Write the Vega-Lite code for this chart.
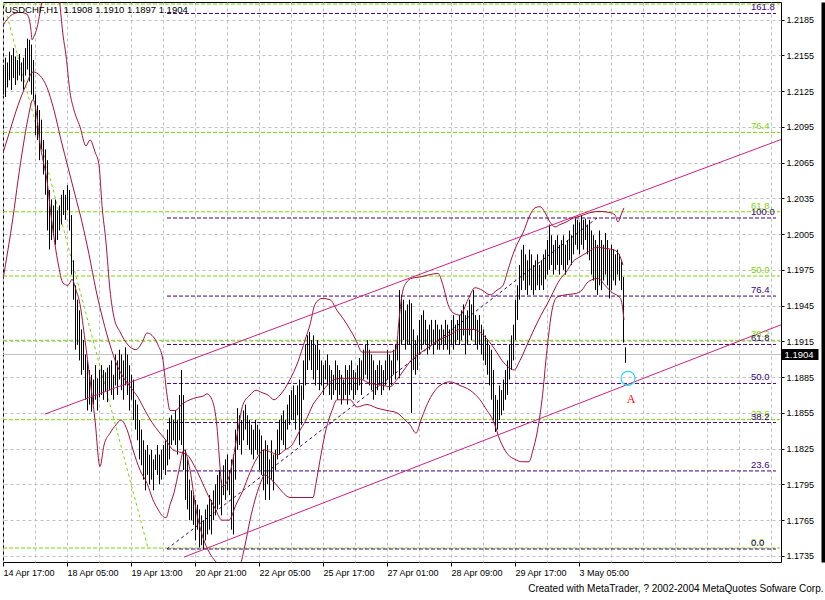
{
"$schema":"https://vega.github.io/schema/vega-lite/v6.json",
"width":778,"height":560,
"autosize":{"type":"none"},
"padding":{"left":3,"top":2,"right":44,"bottom":38},
"background":"white",
"config":{"view":{"stroke":"black","strokeWidth":1,"fill":"white"},"font":"Liberation Sans","text":{"font":"Liberation Sans"},
"axis":{"labelFont":"Liberation Sans","labelFontSize":9,"labelColor":"black","tickColor":"black","gridColor":"#c0c0c0","gridDash":[3,3],"gridWidth":1,"gridOpacity":1}},
"title":{"text":"Created with MetaTrader, ? 2002-2004 MetaQuotes Sofware Corp.","orient":"bottom","anchor":"end","frame":"bounds","fontSize":10,"fontWeight":"normal","font":"Liberation Sans","color":"black","offset":7,"dx":0},
"resolve":{"scale":{"x":"shared","y":"shared"},"axis":{"x":"independent","y":"independent"}},
"datasets":{
"bars":[{"t":3,"h":1.2147,"l":1.2122},{"t":5,"h":1.2153,"l":1.212},{"t":7,"h":1.2149,"l":1.2128},{"t":9,"h":1.2158,"l":1.2134},{"t":11,"h":1.2155,"l":1.2126},{"t":13,"h":1.2161,"l":1.2136},{"t":15,"h":1.2154,"l":1.213},{"t":17,"h":1.2151,"l":1.2134},{"t":19,"h":1.2156,"l":1.2138},{"t":21,"h":1.2149,"l":1.2133},{"t":23,"h":1.2153,"l":1.2126},{"t":25,"h":1.2161,"l":1.2138},{"t":27,"h":1.2169,"l":1.2143},{"t":29,"h":1.2168,"l":1.2133},{"t":31,"h":1.2164,"l":1.2122},{"t":33,"h":1.2151,"l":1.2118},{"t":35,"h":1.2122,"l":1.2088},{"t":37,"h":1.2113,"l":1.2084},{"t":39,"h":1.2109,"l":1.2067},{"t":41,"h":1.2101,"l":1.2076},{"t":43,"h":1.2084,"l":1.2055},{"t":45,"h":1.2076,"l":1.2038},{"t":47,"h":1.2067,"l":1.2008},{"t":49,"h":1.2042,"l":1.1992},{"t":51,"h":1.2034,"l":1.2},{"t":53,"h":1.2029,"l":1.2004},{"t":55,"h":1.2034,"l":1.1996},{"t":57,"h":1.2025,"l":1.2},{"t":59,"h":1.2029,"l":1.2008},{"t":61,"h":1.2038,"l":1.2013},{"t":63,"h":1.2042,"l":1.2021},{"t":65,"h":1.2038,"l":1.2017},{"t":67,"h":1.2046,"l":1.2025},{"t":69,"h":1.2042,"l":1.2008},{"t":71,"h":1.2021,"l":1.1971},{"t":73,"h":1.1983,"l":1.195},{"t":75,"h":1.1962,"l":1.1908},{"t":77,"h":1.195,"l":1.1912},{"t":79,"h":1.1941,"l":1.1899},{"t":81,"h":1.1925,"l":1.1887},{"t":83,"h":1.1916,"l":1.1891},{"t":85,"h":1.1904,"l":1.1866},{"t":87,"h":1.1899,"l":1.1857},{"t":89,"h":1.1891,"l":1.1862},{"t":91,"h":1.1887,"l":1.1856},{"t":93,"h":1.1883,"l":1.1862},{"t":95,"h":1.1895,"l":1.1866},{"t":97,"h":1.1884,"l":1.1857},{"t":99,"h":1.1891,"l":1.1868},{"t":101,"h":1.1895,"l":1.187},{"t":103,"h":1.1891,"l":1.1866},{"t":105,"h":1.1889,"l":1.1873},{"t":107,"h":1.1893,"l":1.1864},{"t":109,"h":1.1895,"l":1.1874},{"t":111,"h":1.1899,"l":1.187},{"t":113,"h":1.1887,"l":1.1866},{"t":115,"h":1.1904,"l":1.1878},{"t":117,"h":1.1899,"l":1.187},{"t":119,"h":1.1908,"l":1.1883},{"t":121,"h":1.1904,"l":1.1874},{"t":123,"h":1.1899,"l":1.1866},{"t":125,"h":1.191,"l":1.1878},{"t":127,"h":1.1904,"l":1.187},{"t":129,"h":1.1895,"l":1.1857},{"t":131,"h":1.1887,"l":1.1866},{"t":133,"h":1.1883,"l":1.1849},{"t":135,"h":1.1866,"l":1.1841},{"t":137,"h":1.1862,"l":1.1832},{"t":139,"h":1.1849,"l":1.1816},{"t":141,"h":1.1841,"l":1.1811},{"t":143,"h":1.1832,"l":1.1799},{"t":145,"h":1.1824,"l":1.179},{"t":147,"h":1.1828,"l":1.1803},{"t":149,"h":1.182,"l":1.1795},{"t":151,"h":1.1824,"l":1.1799},{"t":153,"h":1.1816,"l":1.179},{"t":155,"h":1.182,"l":1.1807},{"t":157,"h":1.1828,"l":1.1803},{"t":159,"h":1.182,"l":1.1795},{"t":161,"h":1.1824,"l":1.1799},{"t":163,"h":1.1828,"l":1.1807},{"t":165,"h":1.1832,"l":1.1803},{"t":167,"h":1.1841,"l":1.1811},{"t":169,"h":1.1851,"l":1.1816},{"t":171,"h":1.1853,"l":1.1828},{"t":173,"h":1.1849,"l":1.1832},{"t":175,"h":1.1857,"l":1.1828},{"t":177,"h":1.1849,"l":1.182},{"t":179,"h":1.187,"l":1.1832},{"t":181,"h":1.1891,"l":1.1828},{"t":183,"h":1.187,"l":1.1807},{"t":185,"h":1.1824,"l":1.1782},{"t":187,"h":1.1816,"l":1.1774},{"t":189,"h":1.1799,"l":1.1765},{"t":191,"h":1.179,"l":1.1765},{"t":193,"h":1.1786,"l":1.1761},{"t":195,"h":1.1782,"l":1.1748},{"t":197,"h":1.1778,"l":1.1757},{"t":199,"h":1.1774,"l":1.1742},{"t":201,"h":1.1769,"l":1.1744},{"t":203,"h":1.1765,"l":1.174},{"t":205,"h":1.1774,"l":1.1748},{"t":207,"h":1.1778,"l":1.1753},{"t":209,"h":1.1786,"l":1.1757},{"t":211,"h":1.1782,"l":1.1753},{"t":213,"h":1.179,"l":1.1765},{"t":215,"h":1.1795,"l":1.1769},{"t":217,"h":1.1803,"l":1.1774},{"t":219,"h":1.1807,"l":1.1778},{"t":221,"h":1.1799,"l":1.1769},{"t":223,"h":1.1811,"l":1.1786},{"t":225,"h":1.1816,"l":1.1782},{"t":227,"h":1.182,"l":1.179},{"t":229,"h":1.1807,"l":1.1786},{"t":231,"h":1.1816,"l":1.1757},{"t":233,"h":1.182,"l":1.1753},{"t":235,"h":1.1841,"l":1.1799},{"t":237,"h":1.1859,"l":1.1824},{"t":239,"h":1.1853,"l":1.1828},{"t":241,"h":1.1849,"l":1.182},{"t":243,"h":1.1857,"l":1.1832},{"t":245,"h":1.1862,"l":1.1841},{"t":247,"h":1.1853,"l":1.1828},{"t":249,"h":1.1849,"l":1.1824},{"t":251,"h":1.1845,"l":1.182},{"t":253,"h":1.1841,"l":1.1816},{"t":255,"h":1.1849,"l":1.1824},{"t":257,"h":1.1845,"l":1.182},{"t":259,"h":1.1841,"l":1.1807},{"t":261,"h":1.1836,"l":1.1803},{"t":263,"h":1.1824,"l":1.179},{"t":265,"h":1.1832,"l":1.1782},{"t":267,"h":1.1828,"l":1.1795},{"t":269,"h":1.1816,"l":1.1782},{"t":271,"h":1.1832,"l":1.1799},{"t":273,"h":1.182,"l":1.179},{"t":275,"h":1.1824,"l":1.1807},{"t":277,"h":1.1841,"l":1.1816},{"t":279,"h":1.1849,"l":1.182},{"t":281,"h":1.1853,"l":1.1832},{"t":283,"h":1.1857,"l":1.1828},{"t":285,"h":1.1849,"l":1.1824},{"t":287,"h":1.1862,"l":1.1841},{"t":289,"h":1.187,"l":1.1845},{"t":291,"h":1.1874,"l":1.1849},{"t":293,"h":1.1878,"l":1.1849},{"t":295,"h":1.187,"l":1.1841},{"t":297,"h":1.1878,"l":1.1853},{"t":299,"h":1.1883,"l":1.1828},{"t":301,"h":1.1878,"l":1.1845},{"t":303,"h":1.1899,"l":1.1866},{"t":305,"h":1.1912,"l":1.1878},{"t":307,"h":1.192,"l":1.1891},{"t":309,"h":1.1923,"l":1.1899},{"t":311,"h":1.1916,"l":1.1891},{"t":313,"h":1.192,"l":1.1883},{"t":315,"h":1.1912,"l":1.1878},{"t":317,"h":1.1916,"l":1.1891},{"t":319,"h":1.1908,"l":1.1874},{"t":321,"h":1.1899,"l":1.1878},{"t":323,"h":1.1895,"l":1.187},{"t":325,"h":1.1899,"l":1.1883},{"t":327,"h":1.1904,"l":1.1878},{"t":329,"h":1.1895,"l":1.187},{"t":331,"h":1.1891,"l":1.1866},{"t":333,"h":1.1887,"l":1.187},{"t":335,"h":1.1899,"l":1.1874},{"t":337,"h":1.1895,"l":1.1866},{"t":339,"h":1.1891,"l":1.187},{"t":341,"h":1.1887,"l":1.1862},{"t":343,"h":1.1883,"l":1.1866},{"t":345,"h":1.1895,"l":1.187},{"t":347,"h":1.1891,"l":1.1862},{"t":349,"h":1.1895,"l":1.187},{"t":351,"h":1.1899,"l":1.1874},{"t":353,"h":1.1891,"l":1.1866},{"t":355,"h":1.1889,"l":1.187},{"t":357,"h":1.1895,"l":1.1874},{"t":359,"h":1.1901,"l":1.1878},{"t":361,"h":1.1899,"l":1.187},{"t":363,"h":1.1908,"l":1.1883},{"t":365,"h":1.1912,"l":1.1887},{"t":367,"h":1.1916,"l":1.1883},{"t":369,"h":1.1908,"l":1.1878},{"t":371,"h":1.1904,"l":1.1874},{"t":373,"h":1.1899,"l":1.1866},{"t":375,"h":1.1891,"l":1.187},{"t":377,"h":1.1895,"l":1.1874},{"t":379,"h":1.1899,"l":1.1878},{"t":381,"h":1.1895,"l":1.187},{"t":383,"h":1.1891,"l":1.1874},{"t":385,"h":1.1899,"l":1.1878},{"t":387,"h":1.1908,"l":1.1883},{"t":389,"h":1.1904,"l":1.1874},{"t":391,"h":1.1899,"l":1.1878},{"t":393,"h":1.1908,"l":1.1887},{"t":395,"h":1.1912,"l":1.1883},{"t":397,"h":1.1916,"l":1.1899},{"t":399,"h":1.1958,"l":1.1884},{"t":401,"h":1.1954,"l":1.1912},{"t":403,"h":1.195,"l":1.1916},{"t":405,"h":1.1941,"l":1.1908},{"t":407,"h":1.1946,"l":1.1912},{"t":409,"h":1.195,"l":1.1912},{"t":411,"h":1.1947,"l":1.1855},{"t":413,"h":1.1925,"l":1.1891},{"t":415,"h":1.1916,"l":1.1887},{"t":417,"h":1.192,"l":1.1891},{"t":419,"h":1.1933,"l":1.1904},{"t":421,"h":1.1937,"l":1.1908},{"t":423,"h":1.1941,"l":1.1912},{"t":425,"h":1.1933,"l":1.1912},{"t":427,"h":1.1925,"l":1.1904},{"t":429,"h":1.1929,"l":1.1908},{"t":431,"h":1.1933,"l":1.1912},{"t":433,"h":1.1925,"l":1.1904},{"t":435,"h":1.1933,"l":1.1912},{"t":437,"h":1.1929,"l":1.1908},{"t":439,"h":1.1925,"l":1.1908},{"t":441,"h":1.1929,"l":1.1912},{"t":443,"h":1.1925,"l":1.1908},{"t":445,"h":1.1933,"l":1.1912},{"t":447,"h":1.1929,"l":1.1908},{"t":449,"h":1.1925,"l":1.1904},{"t":451,"h":1.1933,"l":1.1912},{"t":453,"h":1.1937,"l":1.1908},{"t":455,"h":1.1929,"l":1.1912},{"t":457,"h":1.1933,"l":1.1916},{"t":459,"h":1.1937,"l":1.1912},{"t":461,"h":1.1941,"l":1.1916},{"t":463,"h":1.1946,"l":1.192},{"t":465,"h":1.1937,"l":1.1904},{"t":467,"h":1.1941,"l":1.1912},{"t":469,"h":1.195,"l":1.192},{"t":471,"h":1.1946,"l":1.1916},{"t":473,"h":1.1958,"l":1.1925},{"t":475,"h":1.1937,"l":1.1912},{"t":477,"h":1.1933,"l":1.1908},{"t":479,"h":1.1937,"l":1.1912},{"t":481,"h":1.1929,"l":1.1904},{"t":483,"h":1.1925,"l":1.1899},{"t":485,"h":1.192,"l":1.1895},{"t":487,"h":1.1916,"l":1.1887},{"t":489,"h":1.1912,"l":1.1878},{"t":491,"h":1.1908,"l":1.1866},{"t":493,"h":1.1891,"l":1.1849},{"t":495,"h":1.187,"l":1.1839},{"t":497,"h":1.1866,"l":1.1841},{"t":499,"h":1.1878,"l":1.1849},{"t":501,"h":1.1874,"l":1.1853},{"t":503,"h":1.1883,"l":1.1857},{"t":505,"h":1.1891,"l":1.1866},{"t":507,"h":1.1899,"l":1.187},{"t":509,"h":1.1912,"l":1.1883},{"t":511,"h":1.192,"l":1.1891},{"t":513,"h":1.1929,"l":1.1899},{"t":515,"h":1.195,"l":1.1916},{"t":517,"h":1.1962,"l":1.1933},{"t":519,"h":1.1979,"l":1.195},{"t":521,"h":1.1992,"l":1.1958},{"t":523,"h":1.1996,"l":1.1966},{"t":525,"h":1.1988,"l":1.1958},{"t":527,"h":1.1983,"l":1.1954},{"t":529,"h":1.1992,"l":1.1962},{"t":531,"h":1.1988,"l":1.1958},{"t":533,"h":1.1979,"l":1.1954},{"t":535,"h":1.1983,"l":1.1958},{"t":537,"h":1.1988,"l":1.1962},{"t":539,"h":1.1979,"l":1.1958},{"t":541,"h":1.1983,"l":1.1962},{"t":543,"h":1.1988,"l":1.1958},{"t":545,"h":1.1992,"l":1.1967},{"t":547,"h":1.2,"l":1.1971},{"t":549,"h":1.2013,"l":1.1975},{"t":551,"h":1.2004,"l":1.1979},{"t":553,"h":1.1996,"l":1.1971},{"t":555,"h":1.2,"l":1.1975},{"t":557,"h":1.2004,"l":1.1979},{"t":559,"h":1.1996,"l":1.1971},{"t":561,"h":1.2,"l":1.1979},{"t":563,"h":1.2004,"l":1.1975},{"t":565,"h":1.1996,"l":1.1971},{"t":567,"h":1.2,"l":1.1979},{"t":569,"h":1.2008,"l":1.1983},{"t":571,"h":1.2004,"l":1.1979},{"t":573,"h":1.2013,"l":1.1988},{"t":575,"h":1.2018,"l":1.1996},{"t":577,"h":1.2017,"l":1.1992},{"t":579,"h":1.2015,"l":1.1988},{"t":581,"h":1.2021,"l":1.1996},{"t":583,"h":1.2017,"l":1.1992},{"t":585,"h":1.2018,"l":1.2},{"t":587,"h":1.2013,"l":1.1988},{"t":589,"h":1.2017,"l":1.1983},{"t":591,"h":1.2008,"l":1.1971},{"t":593,"h":1.2004,"l":1.1966},{"t":595,"h":1.2,"l":1.1958},{"t":597,"h":1.1996,"l":1.1954},{"t":599,"h":1.2008,"l":1.1962},{"t":601,"h":1.2,"l":1.1958},{"t":603,"h":1.1996,"l":1.1966},{"t":605,"h":1.2006,"l":1.1971},{"t":607,"h":1.2,"l":1.1962},{"t":609,"h":1.1992,"l":1.1951},{"t":611,"h":1.1996,"l":1.1958},{"t":613,"h":1.1992,"l":1.1966},{"t":615,"h":1.1988,"l":1.1962},{"t":617,"h":1.1992,"l":1.1971},{"t":619,"h":1.1988,"l":1.1966},{"t":621,"h":1.1982,"l":1.1958},{"t":623,"h":1.1969,"l":1.1914},{"t":625,"h":1.191,"l":1.1897}],
"bands":[{"b":"U","t":3,"p":1.218},{"b":"U","t":8,"p":1.2186},{"b":"U","t":14,"p":1.219},{"b":"U","t":20,"p":1.2191},{"b":"U","t":26,"p":1.219},{"b":"U","t":29,"p":1.2186},{"b":"U","t":31,"p":1.2176},{"b":"U","t":32,"p":1.2168},{"b":"U","t":34,"p":1.2171},{"b":"U","t":37,"p":1.2178},{"b":"U","t":40,"p":1.2191},{"b":"U","t":43,"p":1.2206},{"b":"U","t":47,"p":1.2227},{"b":"U","t":52,"p":1.2239},{"b":"U","t":56,"p":1.2231},{"b":"U","t":60,"p":1.2197},{"b":"U","t":63,"p":1.2172},{"b":"U","t":66,"p":1.2155},{"b":"U","t":70,"p":1.2124},{"b":"U","t":74,"p":1.2109},{"b":"U","t":80,"p":1.2095},{"b":"U","t":86,"p":1.2079},{"b":"U","t":90,"p":1.2084},{"b":"U","t":95,"p":1.2074},{"b":"U","t":99,"p":1.2063},{"b":"U","t":102,"p":1.2029},{"b":"U","t":106,"p":1.1998},{"b":"U","t":110,"p":1.1958},{"b":"U","t":114,"p":1.1935},{"b":"U","t":120,"p":1.1923},{"b":"U","t":128,"p":1.1912},{"b":"U","t":136,"p":1.1908},{"b":"U","t":142,"p":1.1914},{"b":"U","t":147,"p":1.1922},{"b":"U","t":152,"p":1.192},{"b":"U","t":158,"p":1.1912},{"b":"U","t":163,"p":1.1899},{"b":"U","t":167,"p":1.187},{"b":"U","t":170,"p":1.1857},{"b":"U","t":175,"p":1.1857},{"b":"U","t":183,"p":1.1863},{"b":"U","t":190,"p":1.1866},{"b":"U","t":197,"p":1.1868},{"b":"U","t":203,"p":1.1869},{"b":"U","t":207,"p":1.1871},{"b":"U","t":212,"p":1.1866},{"b":"U","t":217,"p":1.1843},{"b":"U","t":220,"p":1.181},{"b":"U","t":222,"p":1.1793},{"b":"U","t":228,"p":1.1799},{"b":"U","t":233,"p":1.1816},{"b":"U","t":238,"p":1.1841},{"b":"U","t":243,"p":1.1862},{"b":"U","t":250,"p":1.187},{"b":"U","t":256,"p":1.1874},{"b":"U","t":262,"p":1.1872},{"b":"U","t":268,"p":1.187},{"b":"U","t":274,"p":1.1866},{"b":"U","t":280,"p":1.187},{"b":"U","t":290,"p":1.1883},{"b":"U","t":298,"p":1.1898},{"b":"U","t":305,"p":1.1916},{"b":"U","t":310,"p":1.1929},{"b":"U","t":315,"p":1.1946},{"b":"U","t":322,"p":1.1951},{"b":"U","t":330,"p":1.195},{"b":"U","t":337,"p":1.1941},{"b":"U","t":344,"p":1.1933},{"b":"U","t":350,"p":1.1925},{"b":"U","t":356,"p":1.1916},{"b":"U","t":362,"p":1.1906},{"b":"U","t":370,"p":1.1906},{"b":"U","t":380,"p":1.1906},{"b":"U","t":390,"p":1.1906},{"b":"U","t":396,"p":1.1908},{"b":"U","t":399,"p":1.1933},{"b":"U","t":402,"p":1.1954},{"b":"U","t":406,"p":1.1964},{"b":"U","t":412,"p":1.1968},{"b":"U","t":420,"p":1.1969},{"b":"U","t":430,"p":1.1971},{"b":"U","t":438,"p":1.1972},{"b":"U","t":443,"p":1.1962},{"b":"U","t":448,"p":1.1946},{"b":"U","t":453,"p":1.1939},{"b":"U","t":460,"p":1.1937},{"b":"U","t":468,"p":1.195},{"b":"U","t":475,"p":1.196},{"b":"U","t":482,"p":1.1958},{"b":"U","t":490,"p":1.1954},{"b":"U","t":497,"p":1.1958},{"b":"U","t":503,"p":1.1962},{"b":"U","t":508,"p":1.1975},{"b":"U","t":513,"p":1.1988},{"b":"U","t":518,"p":1.1998},{"b":"U","t":523,"p":1.2006},{"b":"U","t":530,"p":1.2021},{"b":"U","t":535,"p":1.2027},{"b":"U","t":540,"p":1.2028},{"b":"U","t":545,"p":1.2023},{"b":"U","t":550,"p":1.2015},{"b":"U","t":555,"p":1.2011},{"b":"U","t":560,"p":1.2013},{"b":"U","t":566,"p":1.2015},{"b":"U","t":572,"p":1.2018},{"b":"U","t":580,"p":1.202},{"b":"U","t":590,"p":1.2023},{"b":"U","t":600,"p":1.2024},{"b":"U","t":610,"p":1.2023},{"b":"U","t":615,"p":1.2021},{"b":"U","t":618,"p":1.2015},{"b":"U","t":621,"p":1.2021},{"b":"U","t":624,"p":1.2027},
{"b":"M","t":3,"p":1.2073},{"b":"M","t":10,"p":1.2092},{"b":"M","t":18,"p":1.2113},{"b":"M","t":26,"p":1.213},{"b":"M","t":33,"p":1.2141},{"b":"M","t":40,"p":1.2138},{"b":"M","t":47,"p":1.2128},{"b":"M","t":54,"p":1.2109},{"b":"M","t":61,"p":1.2084},{"b":"M","t":68,"p":1.2061},{"b":"M","t":75,"p":1.2038},{"b":"M","t":82,"p":1.2015},{"b":"M","t":89,"p":1.1988},{"b":"M","t":96,"p":1.1958},{"b":"M","t":103,"p":1.1933},{"b":"M","t":110,"p":1.1912},{"b":"M","t":117,"p":1.1895},{"b":"M","t":124,"p":1.1884},{"b":"M","t":131,"p":1.1876},{"b":"M","t":138,"p":1.1868},{"b":"M","t":145,"p":1.1857},{"b":"M","t":152,"p":1.1847},{"b":"M","t":159,"p":1.1839},{"b":"M","t":166,"p":1.1832},{"b":"M","t":173,"p":1.1824},{"b":"M","t":180,"p":1.1822},{"b":"M","t":187,"p":1.182},{"b":"M","t":194,"p":1.1811},{"b":"M","t":201,"p":1.1799},{"b":"M","t":208,"p":1.1786},{"b":"M","t":215,"p":1.1775},{"b":"M","t":222,"p":1.1765},{"b":"M","t":229,"p":1.1765},{"b":"M","t":236,"p":1.1778},{"b":"M","t":243,"p":1.179},{"b":"M","t":250,"p":1.1805},{"b":"M","t":257,"p":1.1817},{"b":"M","t":264,"p":1.1824},{"b":"M","t":271,"p":1.1822},{"b":"M","t":278,"p":1.182},{"b":"M","t":285,"p":1.1824},{"b":"M","t":292,"p":1.1828},{"b":"M","t":299,"p":1.1839},{"b":"M","t":306,"p":1.1849},{"b":"M","t":313,"p":1.1862},{"b":"M","t":320,"p":1.187},{"b":"M","t":327,"p":1.1878},{"b":"M","t":334,"p":1.1883},{"b":"M","t":341,"p":1.1884},{"b":"M","t":348,"p":1.1884},{"b":"M","t":355,"p":1.1884},{"b":"M","t":362,"p":1.1883},{"b":"M","t":369,"p":1.188},{"b":"M","t":376,"p":1.1879},{"b":"M","t":383,"p":1.1878},{"b":"M","t":390,"p":1.1877},{"b":"M","t":397,"p":1.1883},{"b":"M","t":404,"p":1.1891},{"b":"M","t":411,"p":1.1899},{"b":"M","t":418,"p":1.1904},{"b":"M","t":425,"p":1.1908},{"b":"M","t":432,"p":1.1912},{"b":"M","t":439,"p":1.1916},{"b":"M","t":446,"p":1.1919},{"b":"M","t":453,"p":1.1922},{"b":"M","t":460,"p":1.1925},{"b":"M","t":467,"p":1.1925},{"b":"M","t":474,"p":1.1925},{"b":"M","t":481,"p":1.1922},{"b":"M","t":488,"p":1.1916},{"b":"M","t":495,"p":1.1908},{"b":"M","t":502,"p":1.1899},{"b":"M","t":509,"p":1.1893},{"b":"M","t":514,"p":1.1891},{"b":"M","t":520,"p":1.1899},{"b":"M","t":527,"p":1.1912},{"b":"M","t":534,"p":1.1925},{"b":"M","t":541,"p":1.1937},{"b":"M","t":547,"p":1.1946},{"b":"M","t":553,"p":1.1956},{"b":"M","t":560,"p":1.1967},{"b":"M","t":566,"p":1.1973},{"b":"M","t":573,"p":1.1982},{"b":"M","t":580,"p":1.1986},{"b":"M","t":588,"p":1.199},{"b":"M","t":597,"p":1.1994},{"b":"M","t":605,"p":1.1993},{"b":"M","t":613,"p":1.1992},{"b":"M","t":619,"p":1.1988},{"b":"M","t":623,"p":1.1979},
{"b":"L","t":3,"p":1.1967},{"b":"L","t":8,"p":1.1992},{"b":"L","t":13,"p":1.2019},{"b":"L","t":18,"p":1.205},{"b":"L","t":23,"p":1.2078},{"b":"L","t":28,"p":1.2102},{"b":"L","t":33,"p":1.2118},{"b":"L","t":37,"p":1.2103},{"b":"L","t":40,"p":1.2081},{"b":"L","t":44,"p":1.2063},{"b":"L","t":47,"p":1.205},{"b":"L","t":50,"p":1.2028},{"b":"L","t":53,"p":1.2008},{"b":"L","t":58,"p":1.1981},{"b":"L","t":63,"p":1.1964},{"b":"L","t":68,"p":1.1962},{"b":"L","t":72,"p":1.1967},{"b":"L","t":76,"p":1.1958},{"b":"L","t":80,"p":1.1946},{"b":"L","t":85,"p":1.1916},{"b":"L","t":90,"p":1.1883},{"b":"L","t":95,"p":1.1849},{"b":"L","t":100,"p":1.181},{"b":"L","t":104,"p":1.1828},{"b":"L","t":110,"p":1.1838},{"b":"L","t":116,"p":1.1845},{"b":"L","t":121,"p":1.1849},{"b":"L","t":127,"p":1.1841},{"b":"L","t":133,"p":1.1824},{"b":"L","t":140,"p":1.1807},{"b":"L","t":147,"p":1.1796},{"b":"L","t":153,"p":1.1782},{"b":"L","t":158,"p":1.1774},{"b":"L","t":163,"p":1.1768},{"b":"L","t":166,"p":1.1767},{"b":"L","t":170,"p":1.1778},{"b":"L","t":174,"p":1.1788},{"b":"L","t":179,"p":1.1807},{"b":"L","t":184,"p":1.1824},{"b":"L","t":190,"p":1.1807},{"b":"L","t":196,"p":1.1774},{"b":"L","t":202,"p":1.1753},{"b":"L","t":208,"p":1.174},{"b":"L","t":214,"p":1.1732},{"b":"L","t":220,"p":1.1727},{"b":"L","t":228,"p":1.1722},{"b":"L","t":235,"p":1.1722},{"b":"L","t":240,"p":1.1727},{"b":"L","t":245,"p":1.1744},{"b":"L","t":250,"p":1.1765},{"b":"L","t":255,"p":1.1782},{"b":"L","t":260,"p":1.1795},{"b":"L","t":265,"p":1.1803},{"b":"L","t":270,"p":1.18},{"b":"L","t":276,"p":1.1795},{"b":"L","t":282,"p":1.1789},{"b":"L","t":290,"p":1.1784},{"b":"L","t":297,"p":1.1784},{"b":"L","t":305,"p":1.1784},{"b":"L","t":313,"p":1.1784},{"b":"L","t":316,"p":1.1796},{"b":"L","t":321,"p":1.182},{"b":"L","t":326,"p":1.1841},{"b":"L","t":332,"p":1.1857},{"b":"L","t":337,"p":1.1866},{"b":"L","t":343,"p":1.1866},{"b":"L","t":350,"p":1.1866},{"b":"L","t":357,"p":1.186},{"b":"L","t":367,"p":1.1862},{"b":"L","t":377,"p":1.1859},{"b":"L","t":387,"p":1.1857},{"b":"L","t":397,"p":1.1855},{"b":"L","t":405,"p":1.1849},{"b":"L","t":410,"p":1.1845},{"b":"L","t":416,"p":1.1838},{"b":"L","t":421,"p":1.1849},{"b":"L","t":426,"p":1.186},{"b":"L","t":432,"p":1.187},{"b":"L","t":440,"p":1.1878},{"b":"L","t":450,"p":1.1881},{"b":"L","t":460,"p":1.1878},{"b":"L","t":470,"p":1.1874},{"b":"L","t":480,"p":1.1866},{"b":"L","t":487,"p":1.1857},{"b":"L","t":493,"p":1.1849},{"b":"L","t":500,"p":1.1832},{"b":"L","t":508,"p":1.182},{"b":"L","t":515,"p":1.1816},{"b":"L","t":522,"p":1.1814},{"b":"L","t":529,"p":1.1814},{"b":"L","t":533,"p":1.1824},{"b":"L","t":537,"p":1.1838},{"b":"L","t":542,"p":1.1866},{"b":"L","t":547,"p":1.1908},{"b":"L","t":552,"p":1.1941},{"b":"L","t":557,"p":1.1952},{"b":"L","t":565,"p":1.1954},{"b":"L","t":575,"p":1.1955},{"b":"L","t":582,"p":1.1958},{"b":"L","t":587,"p":1.1964},{"b":"L","t":593,"p":1.1967},{"b":"L","t":598,"p":1.1968},{"b":"L","t":605,"p":1.1962},{"b":"L","t":612,"p":1.1956},{"b":"L","t":618,"p":1.1953},{"b":"L","t":621,"p":1.195},{"b":"L","t":624,"p":1.1933}],
"fib":[{"s":"G","lv":"0.0","p":1.17416,"from":3,"to":780},{"s":"G","lv":"23.6","p":1.18493,"from":3,"to":780},{"s":"G","lv":"38.2","p":1.19159,"from":3,"to":780},{"s":"G","lv":"50.0","p":1.19698,"from":3,"to":780},{"s":"G","lv":"61.8","p":1.20237,"from":3,"to":780},{"s":"G","lv":"76.4","p":1.20903,"from":3,"to":780},{"s":"G","lv":"100.0","p":1.2198,"from":3,"to":780},
{"s":"P","lv":"0.0","p":1.17408,"from":167,"to":776},{"s":"P","lv":"23.6","p":1.18063,"from":167,"to":776},{"s":"P","lv":"38.2","p":1.18469,"from":167,"to":776},{"s":"P","lv":"50.0","p":1.18797,"from":167,"to":776},{"s":"P","lv":"61.8","p":1.19124,"from":167,"to":776},{"s":"P","lv":"76.4","p":1.1953,"from":167,"to":776},{"s":"P","lv":"100.0","p":1.20185,"from":167,"to":776},{"s":"P","lv":"161.8","p":1.21901,"from":167,"to":776}],
"diag":[{"s":"G","t":4,"p":1.2198},{"s":"G","t":148,"p":1.17416},{"s":"P","t":167,"p":1.17408},{"s":"P","t":597,"p":1.20185}],
"channel":[{"c":"up","t":45,"p":1.1854},{"c":"up","t":781,"p":1.20843},{"c":"lo","t":184,"p":1.1734},{"c":"lo","t":781,"p":1.19289}]
},
"layer":[
{"data":{"values":[{"p":1.1904}]},"mark":{"type":"rule","color":"#c0c0c0","strokeWidth":1},
 "encoding":{"y":{"field":"p","type":"quantitative","scale":{"domain":[1.17299,1.21997],"nice":false,"zero":false},
  "axis":{"orient":"right","values":[1.1904],"format":".4f","grid":false,"domain":false,"tickSize":37,"tickWidth":11,"tickColor":"black","labelColor":"white","labelPadding":-34,"labelFontSize":9.5,"labelBaseline":"middle","title":null,"zindex":2}}}},
{"data":{"name":"fib"},"mark":{"type":"rule","strokeDash":[4,2],"strokeWidth":1},
 "encoding":{"x":{"field":"from","type":"quantitative","scale":{"domain":[3,781],"nice":false,"zero":false},
   "axis":{"orient":"bottom","values":[3,67,131,195,259,323,387,451,515,579],"grid":false,"domain":false,"ticks":true,"tickSize":4,"tickColor":"black","labels":true,"labelAlign":"left","labelBaseline":"top","labelPadding":2,"labelOverlap":false,"labelFlush":false,"labelBound":false,"title":null,
   "labelExpr":"datum.value == 3 ? '14 Apr 17:00' : datum.value == 67 ? '18 Apr 05:00' : datum.value == 131 ? '19 Apr 13:00' : datum.value == 195 ? '20 Apr 21:00' : datum.value == 259 ? '22 Apr 05:00' : datum.value == 323 ? '25 Apr 17:00' : datum.value == 387 ? '27 Apr 01:00' : datum.value == 451 ? '28 Apr 09:00' : datum.value == 515 ? '29 Apr 17:00' : '3 May 05:00'"}},"x2":{"field":"to"},
  "y":{"field":"p","type":"quantitative","scale":{"domain":[1.17299,1.21997],"nice":false,"zero":false},"axis":null},
  "color":{"field":"s","type":"nominal","scale":{"domain":["G","P"],"range":["#7cd800","#400080"]},"legend":null}}},
{"data":{"name":"diag"},"mark":{"type":"line","strokeDash":[3,3],"strokeWidth":1,"clip":true},
 "encoding":{"x":{"field":"t","type":"quantitative","axis":null},
  "y":{"field":"p","type":"quantitative","axis":null},
  "color":{"field":"s","type":"nominal","scale":{"domain":["G","P"],"range":["#7cd800","#400080"]},"legend":null}}},
{"data":{"name":"bars"},"mark":{"type":"rule","color":"black","strokeWidth":1,"xOffset":0.5},
 "encoding":{"x":{"field":"t","type":"quantitative","scale":{"domain":[3,781],"nice":false,"zero":false},
  "axis":{"orient":"bottom","values":[3,35,67,99,131,163,195,227,259,291,323,355,387,419,451,483,515,547,579,611,643,675,707,739,771],"grid":true,"domain":false,"ticks":false,"labels":false,"title":null}},
  "y":{"field":"h","type":"quantitative","scale":{"domain":[1.17299,1.21997],"nice":false,"zero":false},
   "axis":{"orient":"right","values":[1.1735,1.1765,1.1795,1.1825,1.1855,1.1885,1.1915,1.1945,1.1975,1.2005,1.2035,1.2065,1.2095,1.2125,1.2155,1.2185],"format":".4f","grid":true,"domain":false,"tickSize":3,"labelPadding":2,"labelOverlap":false,"labelBaseline":"middle","title":null}},
  "y2":{"field":"l"}}},
{"data":{"name":"bands"},"mark":{"type":"line","color":"#a8123e","strokeWidth":1,"clip":true,"interpolate":"monotone"},
 "encoding":{"x":{"field":"t","type":"quantitative","axis":null},"y":{"field":"p","type":"quantitative","axis":null},"detail":{"field":"b"}}},
{"data":{"name":"channel"},"mark":{"type":"line","color":"#cc2288","strokeWidth":1,"clip":true},
 "encoding":{"x":{"field":"t","type":"quantitative","axis":null},
  "y":{"field":"p","type":"quantitative","axis":{"orient":"right","offset":42,"domain":true,"domainColor":"black","domainWidth":4,"ticks":false,"labels":false,"grid":false,"title":null}},"detail":{"field":"c"}}},
{"data":{"name":"fib"},"transform":[{"filter":"datum.s == 'G' && datum.lv != '100.0'"}],"mark":{"type":"text","align":"left","baseline":"bottom","dx":-29,"dy":-1,"fontSize":9.5,"color":"#7cd800","clip":true},
 "encoding":{"x":{"field":"to","type":"quantitative","axis":null},"y":{"field":"p","type":"quantitative","axis":null},"text":{"field":"lv"}}},
{"data":{"name":"fib"},"transform":[{"filter":"datum.s == 'P'"}],"mark":{"type":"text","align":"left","baseline":"bottom","dx":-25,"dy":-1,"fontSize":9.5,"color":"#400080","clip":true},
 "encoding":{"x":{"field":"to","type":"quantitative","axis":null},"y":{"field":"p","type":"quantitative","axis":null},"text":{"field":"lv"}}},
{"data":{"values":[{"txt":"USDCHF,H1\u00a0 1.1908 1.1910 1.1897 1.1904"}]},"mark":{"type":"text","align":"left","baseline":"middle","fontSize":9.5,"color":"black"},
 "encoding":{"x":{"datum":5,"type":"quantitative","axis":null},"y":{"datum":1.2193,"type":"quantitative","axis":null},"text":{"field":"txt"}}},
{"data":{"values":[{"t":628,"p":1.1884}]},"mark":{"type":"point","shape":"circle","size":196,"filled":false,"stroke":"#30d8f0","strokeWidth":1.3,"opacity":1},
 "encoding":{"x":{"field":"t","type":"quantitative","axis":null},"y":{"field":"p","type":"quantitative","axis":null}}},
{"data":{"values":[{"t":631,"p":1.1867,"txt":"A"}]},"mark":{"type":"text","font":"Liberation Serif","fontSize":12,"color":"red","baseline":"middle"},
 "encoding":{"x":{"field":"t","type":"quantitative","axis":null},"y":{"field":"p","type":"quantitative","axis":null},"text":{"field":"txt"}}}
]
}
